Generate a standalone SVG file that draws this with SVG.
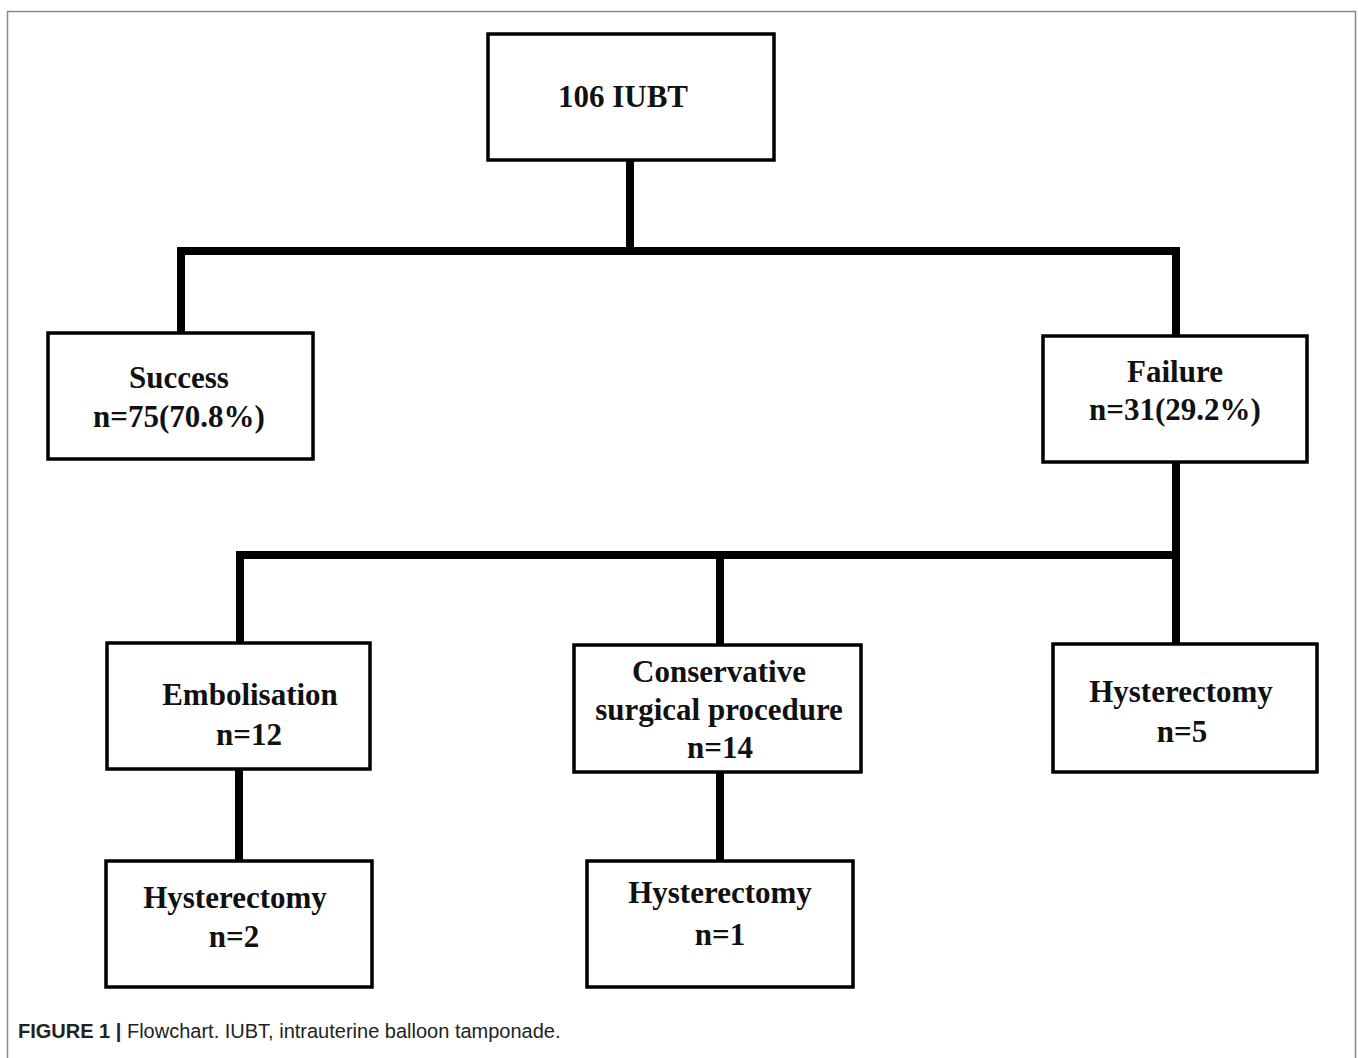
<svg xmlns="http://www.w3.org/2000/svg" width="1358" height="1058" viewBox="0 0 1358 1058">
<style>
.box{fill:#fff;stroke:#000;stroke-width:3.5}
.conn{stroke:#000;stroke-width:8;fill:none;stroke-linecap:square}
.t{font-family:"Liberation Serif","Times New Roman",serif;font-weight:bold;font-size:31px;fill:#111;text-anchor:middle}
.cap{font-family:"Liberation Sans",Arial,sans-serif;font-size:20px;fill:#222}
</style>
<rect x="0" y="0" width="1358" height="1058" fill="#fff"/>
<rect x="7.5" y="11.5" width="1348" height="1100" fill="none" stroke="#8a8a8a" stroke-width="1.5"/>
<g id="connectors">
<path class="conn" d="M630 160 V251"/>
<path class="conn" d="M181 333 V251 H1176 V336"/>
<path class="conn" d="M1176 462 V644"/>
<path class="conn" d="M240 643 V555 H1176"/>
<path class="conn" d="M720 555 V645"/>
<path class="conn" d="M239 769 V861"/>
<path class="conn" d="M720 772 V861"/>
</g>
<g id="n_root">
<rect class="box" x="488" y="34" width="286" height="126"/>
<text class="t" x="623" y="107" font-size="32">106 IUBT</text>
</g>
<g id="n_success">
<rect class="box" x="48" y="333" width="265" height="126"/>
<text class="t" x="179" y="388">Success</text>
<text class="t" x="179" y="427">n=75(70.8%)</text>
</g>
<g id="n_failure">
<rect class="box" x="1043" y="336" width="264" height="126"/>
<text class="t" x="1175" y="382">Failure</text>
<text class="t" x="1175" y="420">n=31(29.2%)</text>
</g>
<g id="n_embol">
<rect class="box" x="107" y="643" width="263" height="126"/>
<text class="t" x="250" y="705">Embolisation</text>
<text class="t" x="249" y="745">n=12</text>
</g>
<g id="n_conserv">
<rect class="box" x="574" y="645" width="287" height="127"/>
<text class="t" x="719" y="682">Conservative</text>
<text class="t" x="719" y="720">surgical procedure</text>
<text class="t" x="720" y="758">n=14</text>
</g>
<g id="n_hyst5">
<rect class="box" x="1053" y="644" width="264" height="128"/>
<text class="t" x="1181" y="702">Hysterectomy</text>
<text class="t" x="1182" y="742">n=5</text>
</g>
<g id="n_hyst2">
<rect class="box" x="106" y="861" width="266" height="126"/>
<text class="t" x="235" y="908">Hysterectomy</text>
<text class="t" x="234" y="947">n=2</text>
</g>
<g id="n_hyst1">
<rect class="box" x="587" y="861" width="266" height="126"/>
<text class="t" x="720" y="903">Hysterectomy</text>
<text class="t" x="720" y="945">n=1</text>
</g>
<text class="cap" x="18" y="1038"><tspan font-weight="bold">FIGURE 1 |</tspan> Flowchart. IUBT, intrauterine balloon tamponade.</text>
</svg>
